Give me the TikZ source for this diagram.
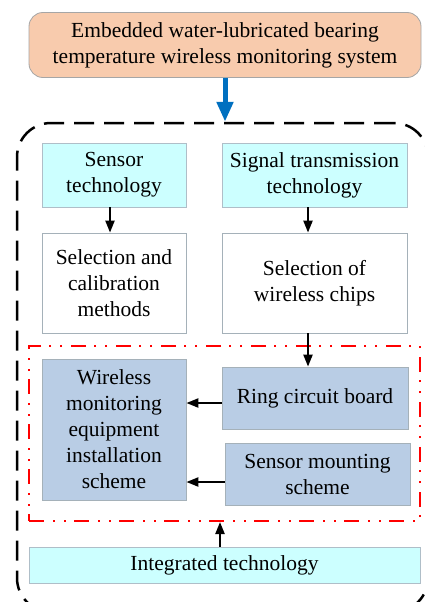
\documentclass[tikz,border=0pt]{standalone}
\usepackage{fontspec}
\setmainfont{Liberation Serif}
\usetikzlibrary{arrows.meta}
\definecolor{peach}{RGB}{248,203,173}
\definecolor{cyanfill}{RGB}{204,255,255}
\definecolor{steelfill}{RGB}{185,205,229}
\definecolor{boxline}{RGB}{175,190,200}
\definecolor{arrowblue}{RGB}{0,112,192}
\tikzset{
  txt/.style={font=\fontsize{21.5}{26}\selectfont, align=center, inner sep=0pt},
  cyanbox/.style={txt, draw=boxline, line width=0.8pt, fill=cyanfill},
  whitebox/.style={txt, draw=boxline!80!gray, line width=0.8pt, fill=white},
  steelbox/.style={txt, draw=boxline!80!gray, line width=0.8pt, fill=steelfill},
  blk/.style={line width=2.2pt, -{Triangle[length=12pt,width=9pt]}},
}
\begin{document}
\begin{tikzpicture}[x=1pt,y=-1pt]
\clip (0,0) rectangle (425,602);
\fill[white] (0,0) rectangle (425,602);
% containers
\node[draw, dash pattern=on 20pt off 10pt, line width=2.5pt, rounded corners=34pt,
  minimum width=411pt, minimum height=489pt, inner sep=0pt] (outer) at (222.5,367.5) {};
\node[draw=red, line width=2pt, dash pattern=on 15pt off 9pt on 2pt off 9pt on 2pt off 8pt,
  minimum width=391pt, minimum height=175pt, inner sep=0pt] (redbox) at (224.5,433.5) {};
% nodes
\node[txt, draw=gray!70, line width=0.8pt, fill=peach, rounded corners=14pt,
  minimum width=392pt, minimum height=65pt] (top) at (225,45)
  {Embedded water-lubricated bearing\\temperature wireless monitoring system};
\node[cyanbox, minimum width=144pt, minimum height=64pt] (sensor) at (114,175) {Sensor\\technology};
\node[cyanbox, minimum width=185pt, minimum height=64pt] (signal) at (314.5,175) {Signal transmission\\technology};
\node[whitebox, minimum width=144pt, minimum height=100pt] (selcal) at (114,283) {Selection and\\calibration\\methods};
\node[whitebox, minimum width=185pt, minimum height=100pt] (selwire) at (314.5,283) {Selection of\\wireless chips};
\node[steelbox, minimum width=144pt, minimum height=141pt] (wireless) at (114,429.5) {Wireless\\monitoring\\equipment\\installation\\scheme};
\node[steelbox, minimum width=186pt, minimum height=62pt] (ring) at (315,398) {Ring circuit board};
\node[steelbox, minimum width=185pt, minimum height=62pt] (mount) at (317.5,474) {Sensor mounting\\scheme};
\node[cyanbox, minimum width=391pt, minimum height=36pt] (integ) at (224.5,565) {Integrated technology};
% connectors
\draw[arrowblue, line width=5pt, -{Triangle[length=20pt,width=16pt]}] (top.south) -- (top.south |- outer.north);
\draw[blk] ([xshift=-4pt]sensor.south) -- ([xshift=-4pt]sensor.south |- selcal.north);
\draw[blk] ([xshift=-6.5pt]signal.south) -- ([xshift=-6.5pt]signal.south |- selwire.north);
\draw[blk] ([xshift=-6.5pt]selwire.south) -- ([xshift=-6.5pt]selwire.south |- ring.north);
\draw[blk] ([yshift=-5pt]ring.west) -- ([yshift=-5pt]ring.west -| wireless.east);
\draw[blk] ([yshift=-8pt]mount.west) -- ([yshift=-8pt]mount.west -| wireless.east);
\draw[blk] ([xshift=-4.5pt]integ.north) -- ([xshift=-4.5pt]integ.north |- redbox.south);
\end{tikzpicture}
\end{document}
